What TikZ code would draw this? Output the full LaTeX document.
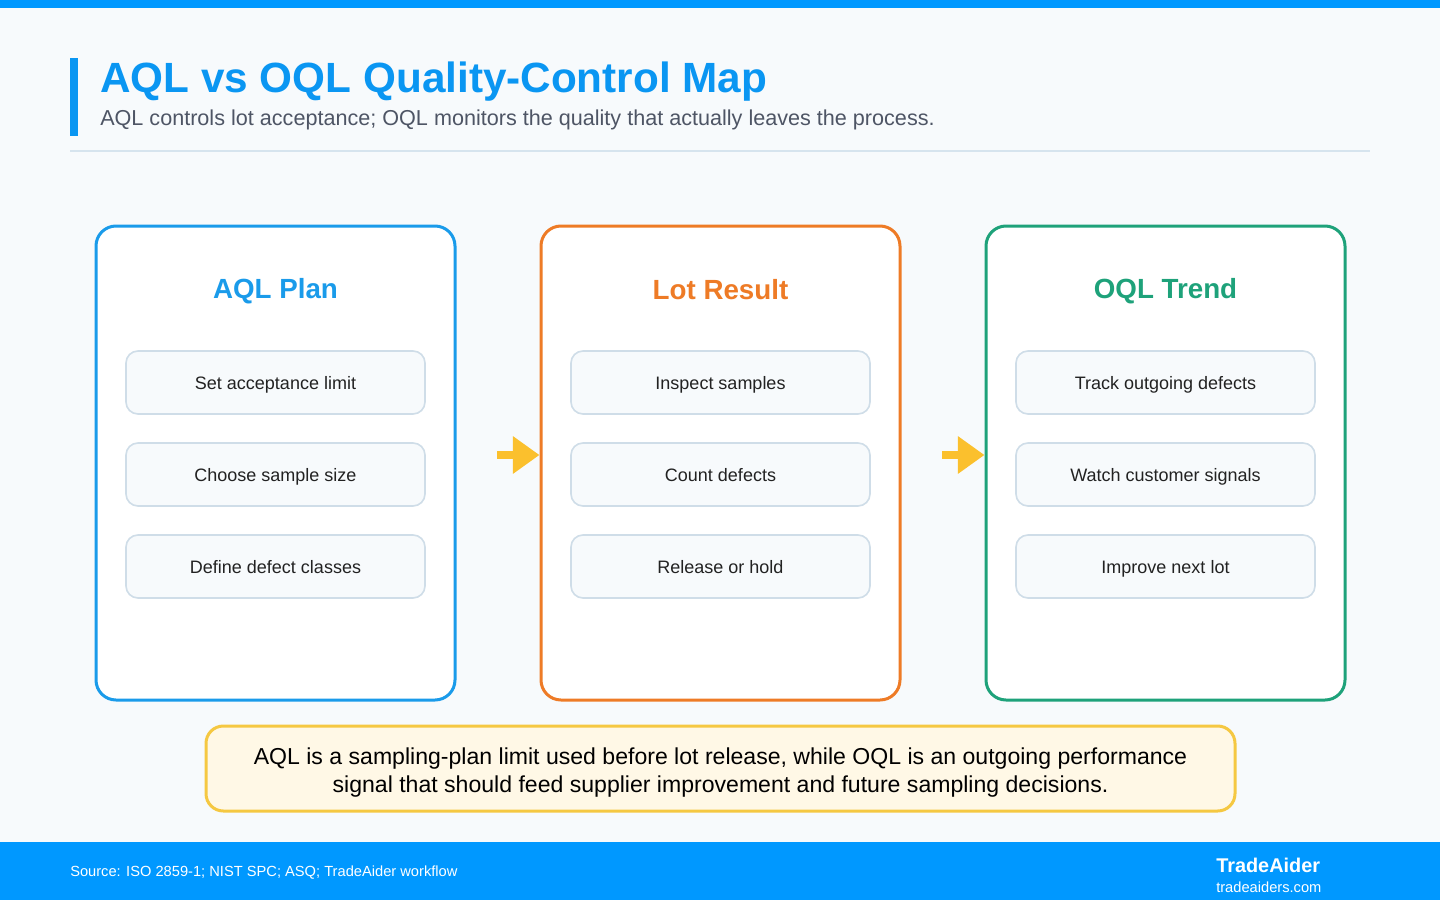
\documentclass[tikz,border=0pt]{standalone}
\usepackage{fontspec}
\setmainfont{Liberation Sans}
\usetikzlibrary{arrows.meta,positioning}
\definecolor{bg}{HTML}{F7FAFC}
\definecolor{topblue}{HTML}{0098FF}
\definecolor{titleblue}{HTML}{0A96F2}
\definecolor{subgray}{HTML}{4E5565}
\definecolor{divider}{HTML}{D6E4EE}
\definecolor{cblue}{HTML}{1A9BEA}
\definecolor{corange}{HTML}{EE7B26}
\definecolor{cgreen}{HTML}{1EA27A}
\definecolor{stepfill}{HTML}{F7FAFC}
\definecolor{stepline}{HTML}{CFDDE8}
\definecolor{steptext}{HTML}{222222}
\definecolor{arrowyellow}{HTML}{FBC02D}
\definecolor{notefill}{HTML}{FFF8E6}
\definecolor{noteline}{HTML}{F5C842}
\tikzset{
  panel/.style={draw, line width=2.25pt, fill=white, rounded corners=15pt,
    minimum width=269.25pt, minimum height=355.5pt, inner sep=0pt},
  paneltitle/.style={font=\fontsize{20.8}{25}\selectfont\bfseries, anchor=base},
  stepbox/.style={draw=stepline, line width=1.2pt, fill=stepfill, rounded corners=9pt,
    minimum width=224.25pt, minimum height=47.25pt, inner sep=0pt,
    font=\fontsize{13.5}{16}\selectfont, text=steptext, text height=13pt, text depth=3pt},
  flowarrow/.style={draw=arrowyellow, line width=6pt,
    -{Triangle[length=20pt, width=27pt, fill=arrowyellow]}},
}
\begin{document}
\begin{tikzpicture}[x=0.75pt, y=-0.75pt]
\useasboundingbox (0,0) rectangle (1440,900);
\fill[bg] (0,0) rectangle (1440,900);
\fill[topblue] (0,0) rectangle (1440,8);
% header
\fill[titleblue] (70,58) rectangle (78,136);
\node[anchor=base west, inner sep=0pt, text=titleblue, font=\fontsize{31.7}{38}\selectfont\bfseries] (title) at (100,92) {AQL vs OQL Quality-Control Map};
\node[anchor=base west, inner sep=0pt, text=subgray, font=\fontsize{16.2}{19}\selectfont] (subtitle) at (100,125) {AQL controls lot acceptance; OQL monitors the quality that actually leaves the process.};
\draw[divider, line width=1.5pt] (70,151) -- (1370,151);
% panels
\node[panel, draw=cblue] (p1) at (275.5,463) {};
\node[panel, draw=corange] (p2) at (720.5,463) {};
\node[panel, draw=cgreen] (p3) at (1165.5,463) {};
\node[paneltitle, text=cblue] (t1) at (275.5,298) {AQL Plan};
\node[paneltitle, text=corange] (t2) at (720.5,299) {Lot Result};
\node[paneltitle, text=cgreen] (t3) at (1165.5,298) {OQL Trend};
% steps
\node[stepbox] (a1) at (275.5,382.5) {Set acceptance limit};
\node[stepbox] (a2) at (275.5,474.5) {Choose sample size};
\node[stepbox] (a3) at (275.5,566.5) {Define defect classes};
\node[stepbox] (b1) at (720.5,382.5) {Inspect samples};
\node[stepbox] (b2) at (720.5,474.5) {Count defects};
\node[stepbox] (b3) at (720.5,566.5) {Release or hold};
\node[stepbox] (c1) at (1165.5,382.5) {Track outgoing defects};
\node[stepbox] (c2) at (1165.5,474.5) {Watch customer signals};
\node[stepbox] (c3) at (1165.5,566.5) {Improve next lot};
% arrows
\coordinate (s1) at (497,455);
\coordinate (s2) at (942,455);
\draw[flowarrow] (s1) -- (p2.west |- s1);
\draw[flowarrow] (s2) -- (p3.west |- s2);
% note
\node[draw=noteline, line width=2.25pt, fill=notefill, rounded corners=13pt,
  minimum width=771.75pt, minimum height=63.75pt, inner sep=0pt] (note) at (720.5,768.5) {};
\node[align=center, inner sep=0pt, font=\fontsize{17.3}{21}\selectfont, text=black] (notetext) at (720.5,773)
  {AQL is a sampling-plan limit used before lot release, while OQL is an outgoing performance\\signal that should feed supplier improvement and future sampling decisions.};
% footer
\fill[topblue] (0,842) rectangle (1440,900);
\node[anchor=base west, inner sep=0pt, text=white, font=\fontsize{11}{13}\selectfont] (src) at (70,876) {Source: ISO 2859-1; NIST SPC; ASQ; TradeAider workflow};
\node[anchor=base west, inner sep=0pt, text=white, font=\fontsize{14.9}{17}\selectfont\bfseries] (brand) at (1216,872) {TradeAider};
\node[anchor=base west, inner sep=0pt, text=white, font=\fontsize{11}{13}\selectfont] (url) at (1216,892) {tradeaiders.com};
\end{tikzpicture}
\end{document}
